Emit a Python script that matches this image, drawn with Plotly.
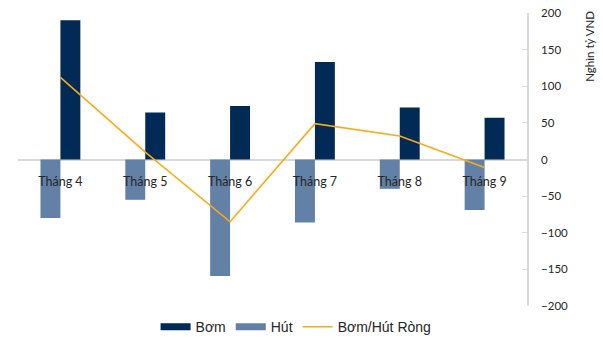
import plotly.graph_objects as go

# Monthly liquidity operations (nghìn tỷ VND)
months = ["Tháng 4", "Tháng 5", "Tháng 6", "Tháng 7", "Tháng 8", "Tháng 9"]
bom = [190, 64, 73, 133, 71, 57]          # Bơm (injection)
hut = [-80, -55, -159, -86, -40, -69]     # Hút (withdrawal)
rong = [112, 10, -85, 49, 32, -11]        # Bơm/Hút Ròng (net)
y_ticks = [-200, -150, -100, -50, 0, 50, 100, 150, 200]

C_BOM = "#012a56"
C_HUT = "#6381a6"
C_NET = "#f9ab1a"
GRID = "#d9d9d9"
TXT = "#262626"
BAR_W = 0.235

fig = go.Figure()

fig.add_trace(go.Bar(x=months, y=hut, width=BAR_W, offset=-BAR_W,
                     marker=dict(color=C_HUT, line_width=0), showlegend=False))
fig.add_trace(go.Bar(x=months, y=bom, width=BAR_W, offset=0,
                     marker=dict(color=C_BOM, line_width=0), showlegend=False))
fig.add_trace(go.Scatter(x=months, y=rong, mode="lines",
                         line=dict(color=C_NET, width=1.6), showlegend=False))

# legend entries drawn as wide swatches
for name, color, w in [("Bơm", C_BOM, 7), ("Hút", C_HUT, 7), ("Bơm/Hút Ròng", C_NET, 1.6)]:
    fig.add_trace(go.Scatter(x=[None], y=[None], mode="lines", name=name,
                             line=dict(color=color, width=w)))

fig.update_layout(
    width=603, height=338,
    margin=dict(l=18, r=76, t=13, b=32, autoexpand=False),
    paper_bgcolor="white", plot_bgcolor="white",
    barmode="overlay",
    font=dict(family="Lato", color=TXT),
    showlegend=True,
    legend=dict(orientation="h", xref="container", yref="container",
                x=0.491, xanchor="center", y=0.032, yanchor="middle",
                font=dict(family="Liberation Sans", size=14, color=TXT),
                traceorder="normal", bgcolor="rgba(0,0,0,0)"),
    xaxis=dict(type="category", range=[-0.5, 5.5], anchor="free", position=0.5,
               automargin=False,
               showline=False, showgrid=False, zeroline=False,
               ticks="outside", ticklen=10, tickcolor="rgba(0,0,0,0)",
               tickfont=dict(family="Lato", size=12.5, color=TXT)),
    yaxis=dict(range=[-200, 200], side="right", tickvals=y_ticks, automargin=False,
               showline=True, linecolor=GRID, linewidth=1.5,
               ticks="inside", ticklen=5, tickcolor=GRID,
               showgrid=False, zeroline=True, zerolinecolor=GRID, zerolinewidth=1.5,
               ticklabelstandoff=10,
               tickfont=dict(family="Lato", size=11.5, color=TXT)),
    annotations=[dict(text="Nghìn tỷ VND", textangle=-90, xref="paper", yref="paper",
                      x=1.123, y=0.887, xanchor="center", yanchor="middle",
                      showarrow=False,
                      font=dict(family="Lato", size=11.5, color=TXT))],
)

fig.write_html("out.html")
